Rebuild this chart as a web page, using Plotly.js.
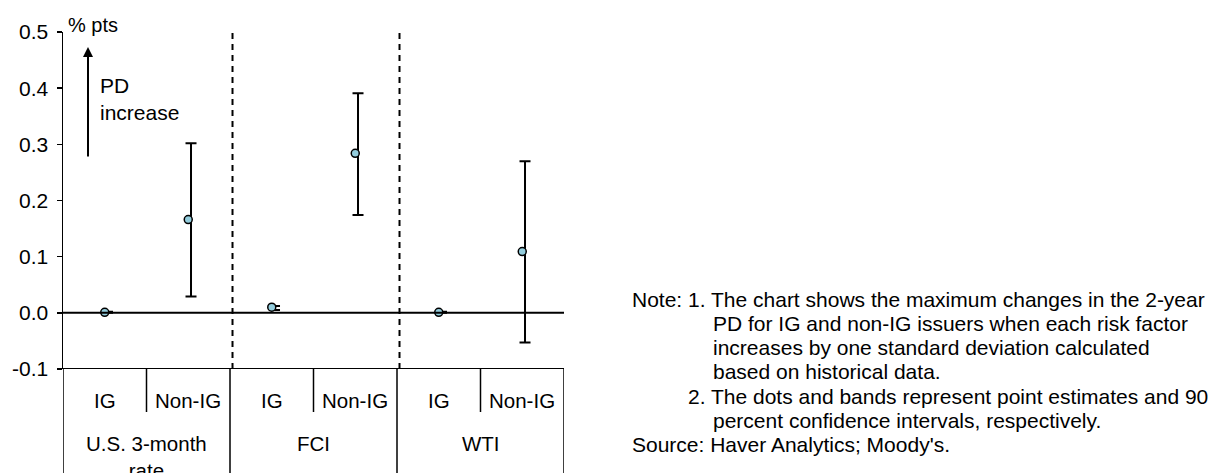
<!DOCTYPE html>
<html>
<head>
<meta charset="utf-8">
<script src="https://cdn.plot.ly/plotly-3.0.1.min.js"></script>
<style>html,body{margin:0;padding:0;background:#fff;}#chart{width:1217px;height:473px;}</style>
</head>
<body>
<div id="chart"></div>
<script>
// ---- data ----
const categories = ['IG', 'Non-IG', 'IG', 'Non-IG', 'IG', 'Non-IG'];
const groups = ['U.S. 3-month<br>rate', 'FCI', 'WTI'];
const estimates = [0.001, 0.166, 0.010, 0.284, 0.001, 0.109];
const upper = [0.002, 0.302, 0.012, 0.391, 0.002, 0.270];
const lower = [0.000, 0.029, 0.005, 0.174, 0.000, -0.053];
const yTicks = [-0.1, 0.0, 0.1, 0.2, 0.3, 0.4, 0.5];
const yTickText = ['-0.1', '0.0', '0.1', '0.2', '0.3', '0.4', '0.5'];
const noteLines = [
  'Note: 1. The chart shows the maximum changes in the 2-year',
  'PD for IG and non-IG issuers when each risk factor',
  'increases by one standard deviation calculated',
  'based on historical data.',
  '2. The dots and bands represent point estimates and 90',
  'percent confidence intervals, respectively.',
  'Source: Haver Analytics; Moody\'s.'
];

// ---- layout helpers ----
const W = 1217, H = 473;
const L = 63, R = 564, T = 32, B = 369;
const px2paperX = px => (px - L) / (R - L);
const px2paperY = py => (B - py) / (B - T);
const FONT = 'Liberation Sans, Arial, sans-serif';

const xIdx = categories.map((_, i) => i);
const barOffset = 0.033;

const traces = [
  {
    x: xIdx.map(v => v + barOffset),
    y: estimates,
    type: 'scatter', mode: 'markers',
    marker: {size: 1, opacity: 0},
    error_y: {
      type: 'data', symmetric: false,
      array: estimates.map((e, i) => upper[i] - e),
      arrayminus: estimates.map((e, i) => e - lower[i]),
      color: '#000', thickness: 2, width: 5.5
    },
    hoverinfo: 'skip', showlegend: false
  },
  {
    x: xIdx, y: estimates,
    type: 'scatter', mode: 'markers',
    marker: {size: 8, color: '#93CDDD', line: {color: '#000', width: 1.5}},
    showlegend: false
  }
];

const shapes = [];
shapes.push({type: 'line', xref: 'x', yref: 'y', x0: -0.5, x1: 5.5, y0: 0, y1: 0, line: {color: '#000', width: 2}});
shapes.push({type: 'line', xref: 'x', yref: 'y', x0: -0.5, x1: 5.5, y0: -0.1, y1: -0.1, line: {color: '#000', width: 2}});
[1.5, 3.5].forEach(x => shapes.push({type: 'line', xref: 'x', yref: 'y', x0: x + 0.03, x1: x + 0.03, y0: -0.1, y1: 0.5, line: {color: '#000', width: 2, dash: '6px,5px'}}));
[-0.5, 1.5, 3.5, 5.5].forEach(x => shapes.push({type: 'line', xref: 'x', yref: 'paper', x0: x, x1: x, y0: px2paperY(H + 2), y1: 0, line: {color: '#000', width: 1.5}}));
[0.5, 2.5, 4.5].forEach(x => shapes.push({type: 'line', xref: 'x', yref: 'paper', x0: x, x1: x, y0: px2paperY(412), y1: 0, line: {color: '#000', width: 1.5}}));

const annotations = [];
categories.forEach((c, i) => annotations.push({
  x: i, xref: 'x', y: px2paperY(400), yref: 'paper', text: c, showarrow: false,
  xanchor: 'center', yanchor: 'middle', font: {family: FONT, size: 20.5, color: '#000'}
}));
groups.forEach((g, i) => annotations.push({
  x: 2 * i + 0.5, xref: 'x', y: px2paperY(430), yref: 'paper', text: g, showarrow: false,
  xanchor: 'center', yanchor: 'top', font: {family: FONT, size: 20.5, color: '#000'}
}));
annotations.push({x: px2paperX(66), xref: 'paper', y: px2paperY(25), yref: 'paper', text: '% pts', showarrow: false,
  xanchor: 'left', yanchor: 'middle', font: {family: FONT, size: 20, color: '#000'}});
annotations.push({x: px2paperX(88), xref: 'paper', y: px2paperY(47), yref: 'paper', text: '', showarrow: true,
  ax: 0, ay: 111, axref: 'pixel', ayref: 'pixel', arrowhead: 2, arrowsize: 1, arrowwidth: 2, arrowcolor: '#000'});
annotations.push({x: px2paperX(98), xref: 'paper', y: px2paperY(99.5), yref: 'paper', text: 'PD<br>increase', showarrow: false,
  xanchor: 'left', yanchor: 'middle', align: 'left', font: {family: FONT, size: 21, color: '#000'}});
const noteX = [630, 711, 711, 711, 686, 711, 630];
noteLines.forEach((t, i) => annotations.push({
  x: px2paperX(noteX[i]), xref: 'paper', y: px2paperY(299 + 24.3 * i), yref: 'paper', text: t, showarrow: false,
  xanchor: 'left', yanchor: 'middle', align: 'left', font: {family: FONT, size: 21, color: '#000'}
}));

const layout = {
  width: W, height: H,
  margin: {l: L, r: W - R, t: T, b: H - B, pad: 0},
  paper_bgcolor: '#fff', plot_bgcolor: '#fff',
  showlegend: false,
  xaxis: {range: [-0.5, 5.5], showgrid: false, zeroline: false, showline: false, showticklabels: false, ticks: '', fixedrange: true},
  yaxis: {range: [-0.1, 0.5], tickvals: yTicks, ticktext: yTickText, showgrid: false, zeroline: false,
    showline: true, linecolor: '#000', linewidth: 1.5, ticks: 'outside', ticklen: 5, tickwidth: 1.5, tickcolor: '#000',
    ticklabelstandoff: 4, tickfont: {family: FONT, size: 21, color: '#000'}, fixedrange: true},
  shapes: shapes,
  annotations: annotations,
  font: {family: FONT, color: '#000'}
};

Plotly.newPlot('chart', traces, layout, {displayModeBar: false, staticPlot: true});
</script>
</body>
</html>
